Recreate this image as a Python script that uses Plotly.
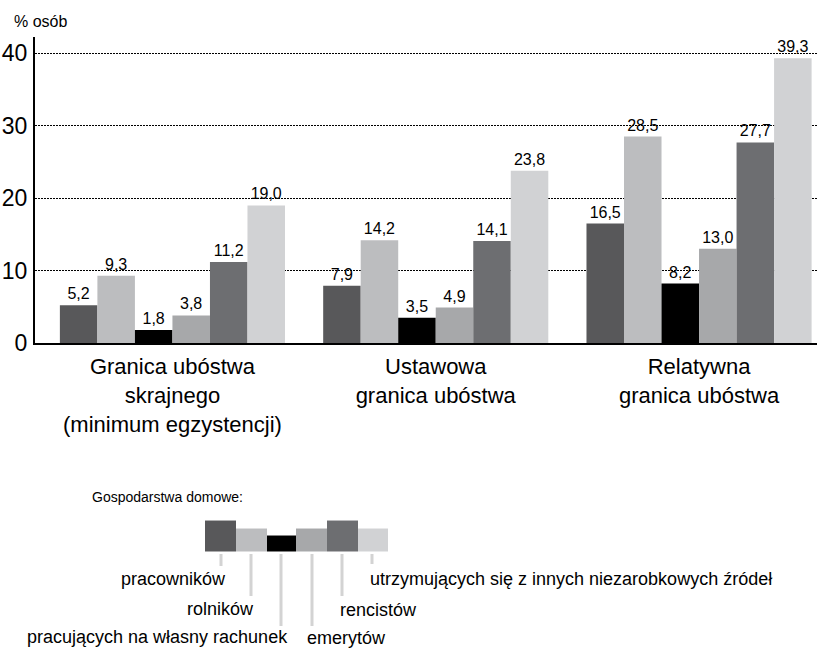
import plotly.graph_objects as go

categories = ["Granica ubóstwa<br>skrajnego<br>(minimum egzystencji)",
              "Ustawowa<br>granica ubóstwa",
              "Relatywna<br>granica ubóstwa"]
series_names = ["pracowników", "rolników", "pracujących na własny rachunek",
                "emerytów", "rencistów",
                "utrzymujących się z innych niezarobkowych źródeł"]
values = {
    "pracowników": [5.2, 7.9, 16.5],
    "rolników": [9.3, 14.2, 28.5],
    "pracujących na własny rachunek": [1.8, 3.5, 8.2],
    "emerytów": [3.8, 4.9, 13.0],
    "rencistów": [11.2, 14.1, 27.7],
    "utrzymujących się z innych niezarobkowych źródeł": [19.0, 23.8, 39.3],
}
colors = ["#58585a", "#bcbdbf", "#000000", "#a7a8aa", "#6d6e71", "#d1d2d4"]
y_ticks = [0, 10, 20, 30, 40]

FONT = "Liberation Sans Narrow, Arial Narrow, Liberation Sans, Arial, sans-serif"

W, H = 817, 648
X0, X1, YT, YB = 35, 817, 37, 343.3


def px(x):
    return (x - X0) / (X1 - X0)


def py(y):
    return (YB - y) / (YB - YT)


fig = go.Figure()
for name, col in zip(series_names, colors):
    fig.add_trace(go.Bar(
        x=categories, y=values[name], name=name,
        marker=dict(color=col, line=dict(width=0)),
        texttemplate="%{y:.1f}", textposition="outside",
        textfont=dict(family=FONT, size=16, color="black"),
        constraintext="none", cliponaxis=False,
    ))

fig.update_layout(
    width=W, height=H,
    margin=dict(l=X0, r=W - X1, t=YT, b=H - YB),
    paper_bgcolor="white", plot_bgcolor="white",
    barmode="group", bargap=0.145, bargroupgap=0,
    showlegend=False, separators=", ",
    font=dict(family=FONT, color="black"),
    xaxis=dict(type="category", range=[-0.522, 2.448], showline=True,
               linecolor="black", linewidth=2, ticks="",
               tickfont=dict(family=FONT, size=22, color="black"),
               showgrid=False, zeroline=False, ticklabelstandoff=3),
    yaxis=dict(range=[0, 42.25], tickvals=y_ticks, showline=True,
               linecolor="black", linewidth=2, ticks="",
               tickfont=dict(family=FONT, size=23, color="black"),
               showgrid=True, gridcolor="black", gridwidth=1,
               griddash="2px,1px", zeroline=False, ticklabelstandoff=1),
)

ann = []
ann.append(dict(text="% osób", x=px(12), y=py(21), xanchor="left",
                yanchor="middle", font=dict(size=16)))
ann.append(dict(text="Gospodarstwa domowe:", x=px(90), y=py(497),
                xanchor="left", yanchor="middle", font=dict(size=14)))

# legend blocks (left, right, top) in pixels
blocks = [(205, 236, 521), (236, 267, 529), (267, 296, 536),
          (296, 327, 529), (327, 358, 521), (358, 388, 529)]
shapes = []
for (l, r, t), col in zip(blocks, colors):
    shapes.append(dict(type="rect", xref="paper", yref="paper",
                       x0=px(l), x1=px(r), y0=py(552), y1=py(t),
                       fillcolor=col, line=dict(width=0)))

# leader lines: x, bottom y ; labels: x, y, anchor
leaders = [(221, 567), (251, 597), (281, 627), (312, 627), (342, 597), (372, 565)]
labels = [(228, 580, "right"), (256, 610, "right"), (290, 638, "right"),
          (305, 639, "left"), (338, 611, "left"), (368, 580, "left")]
for (lx, ly), (tx, ty, anc), name in zip(leaders, labels, series_names):
    shapes.append(dict(type="line", xref="paper", yref="paper",
                       x0=px(lx), x1=px(lx), y0=py(555), y1=py(ly),
                       line=dict(color="#a8a8a8", width=3, dash="1px,1px")))
    ann.append(dict(text=name, x=px(tx), y=py(ty), xanchor=anc,
                    yanchor="middle", font=dict(size=18)))

for a in ann:
    a.update(xref="paper", yref="paper", showarrow=False)
fig.update_layout(annotations=ann, shapes=shapes)

fig.write_html("out.html", config={"displayModeBar": False},
               post_script="document.body.style.margin='0px';"
                           "document.body.style.overflow='hidden';")
